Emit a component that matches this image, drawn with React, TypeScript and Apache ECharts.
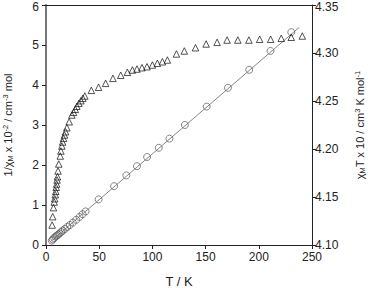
import React, { useEffect, useRef } from "react";
import * as echarts from "echarts";

// χMT x 10 (right axis) – triangles
const triT = [5.8, 6.3, 7.0, 7.7, 8.2, 8.7, 9.2, 9.6, 10.0, 10.4, 10.8, 11.3, 12.0, 13.4, 14.0, 14.9, 15.6, 16.5, 17.4, 18.4, 19.6, 21.8, 24.3, 25.9, 27.5, 29.0, 30.9, 32.8, 34.7, 36.5, 42.6, 49.4, 56.0, 62.9, 70.2, 76.5, 81.2, 85.5, 90.2, 94.9, 100.0, 104.7, 109.4, 114.1, 122.6, 130.0, 140.5, 150.5, 160.8, 170.2, 180.3, 190.7, 200.8, 211.1, 221.1, 230.5, 240.9];
const triV = [4.1208, 4.1295, 4.1389, 4.1448, 4.1482, 4.1524, 4.1559, 4.1601, 4.1635, 4.1677, 4.1711, 4.1771, 4.1844, 4.1927, 4.1979, 4.2031, 4.2073, 4.2111, 4.2146, 4.218, 4.2222, 4.2284, 4.2354, 4.2382, 4.2414, 4.2445, 4.2476, 4.2503, 4.2528, 4.2552, 4.2611, 4.2643, 4.2684, 4.2736, 4.2768, 4.2799, 4.2823, 4.2833, 4.2847, 4.2857, 4.2875, 4.2893, 4.2909, 4.2927, 4.299, 4.3021, 4.3055, 4.3094, 4.3111, 4.3135, 4.3135, 4.3135, 4.3143, 4.3143, 4.3153, 4.3164, 4.3177];

// 1/χM x 10^-2 (left axis) – circles
const cirT = [5.5, 6.4, 7.7, 8.9, 10.2, 11.5, 12.7, 14.3, 15.8, 17.7, 20.0, 22.4, 25.2, 28.4, 31.5, 34.4, 37.2, 49.5, 64.0, 75.5, 85.5, 95.0, 106.0, 116.0, 130.5, 151.0, 171.0, 191.0, 211.0, 230.5];
const cirV = [0.11, 0.14, 0.175, 0.21, 0.235, 0.26, 0.29, 0.325, 0.36, 0.4, 0.45, 0.5, 0.56, 0.63, 0.7, 0.77, 0.84, 1.14, 1.47, 1.74, 1.97, 2.2, 2.43, 2.66, 3.0, 3.46, 3.93, 4.38, 4.85, 5.32];

// Curie–Weiss fit line end points
const fitT = [4, 238];
const fitV = [0.08, 5.44];

const xTicks = { min: 0, max: 250, interval: 50 };
const yLeft = { min: 0, max: 6, interval: 1 };
const yRight = { min: 4.1, max: 4.35, interval: 0.05 };

const FONT = "Liberation Sans, Arial, sans-serif";

export default function App() {
  const ref = useRef<HTMLDivElement>(null);
  useEffect(() => {
    if (!ref.current) return;
    const chart = echarts.init(ref.current, undefined, { renderer: "svg" });
    const rich = {
      sub: { fontSize: 7.5, fontFamily: FONT, color: "#222", verticalAlign: "bottom", lineHeight: 8 },
      sup: { fontSize: 7.5, fontFamily: FONT, color: "#222", verticalAlign: "top", lineHeight: 8 },
    };
    const tickRich = {
      t: { fontFamily: FONT, fontSize: 12, color: "#222", lineHeight: 8, padding: [3, 0, 0, 0] },
    };
    chart.setOption({
      animation: false,
      grid: { left: 46, right: 56, top: 5, bottom: 43, outerBoundsMode: "none", containLabel: false },
      xAxis: [
        {
          type: "value",
          ...xTicks,
          name: "T / K",
          nameLocation: "middle",
          nameGap: 29,
          nameTextStyle: { fontFamily: FONT, fontSize: 13, color: "#222", lineHeight: 14 },
          axisLine: { lineStyle: { color: "#222", width: 1 } },
          axisTick: { length: 4, lineStyle: { color: "#222" } },
          axisLabel: { fontFamily: FONT, fontSize: 12, color: "#222", margin: 6 },
          splitLine: { show: false },
        },
        {
          type: "value",
          position: "top",
          ...xTicks,
          axisLine: { onZero: false, lineStyle: { color: "#222", width: 1 } },
          axisTick: { show: false },
          axisLabel: { show: false },
          splitLine: { show: false },
        },
      ],
      yAxis: [
        {
          type: "value",
          position: "left",
          ...yLeft,
          name: "1/χ{sub|M} x 10{sup|-2} / cm{sup|-3} mol",
          nameLocation: "middle",
          nameGap: 32,
          nameTextStyle: { fontFamily: FONT, fontSize: 11, color: "#222", lineHeight: 13, rich },
          axisLine: { onZero: false, lineStyle: { color: "#777", width: 2 } },
          axisTick: { length: 4, lineStyle: { color: "#222" } },
          axisLabel: {
            fontFamily: FONT,
            fontSize: 12,
            color: "#222",
            margin: 7,
            lineHeight: 10,
            rich: tickRich,
            formatter: (v: number) => (v === yLeft.max ? `{t|${v}}` : String(v)),
          },
          splitLine: { show: false },
        },
        {
          type: "value",
          position: "right",
          ...yRight,
          name: "χ{sub|M}T x 10 / cm{sup|3} K mol{sup|-1}",
          nameLocation: "middle",
          nameGap: 41,
          nameRotate: 90,
          nameTextStyle: { fontFamily: FONT, fontSize: 11, color: "#222", lineHeight: 13, rich },
          axisLine: { onZero: false, lineStyle: { color: "#222", width: 1 } },
          axisTick: { length: 4, lineStyle: { color: "#222" } },
          axisLabel: {
            fontFamily: FONT,
            fontSize: 12,
            color: "#222",
            margin: 3,
            lineHeight: 10,
            rich: tickRich,
            formatter: (v: number) =>
              Math.abs(v - yRight.max) < 1e-6 ? `{t|${v.toFixed(2)}}` : v.toFixed(2),
          },
          splitLine: { show: false },
        },
      ],
      series: [
        {
          type: "line",
          data: fitT.map((t, i) => [t, fitV[i]]),
          yAxisIndex: 0,
          symbol: "none",
          lineStyle: { color: "#666", width: 0.8 },
          z: 1,
        },
        {
          type: "scatter",
          data: cirT.map((t, i) => [t, cirV[i]]),
          yAxisIndex: 0,
          symbol: "circle",
          symbolSize: 7,
          itemStyle: { color: "rgba(0,0,0,0)", borderColor: "#555", borderWidth: 0.9 },
          z: 2,
        },
        {
          type: "scatter",
          data: triT.map((t, i) => [t, triV[i]]),
          yAxisIndex: 1,
          symbol: "triangle",
          symbolSize: 6.5,
          itemStyle: { color: "rgba(0,0,0,0)", borderColor: "#111", borderWidth: 0.9 },
          z: 3,
        },
      ],
    });
    return () => chart.dispose();
  }, []);
  return (
    <div
      ref={ref}
      style={{ position: "absolute", left: 0, top: 0, width: 368, height: 288 }}
    />
  );
}
